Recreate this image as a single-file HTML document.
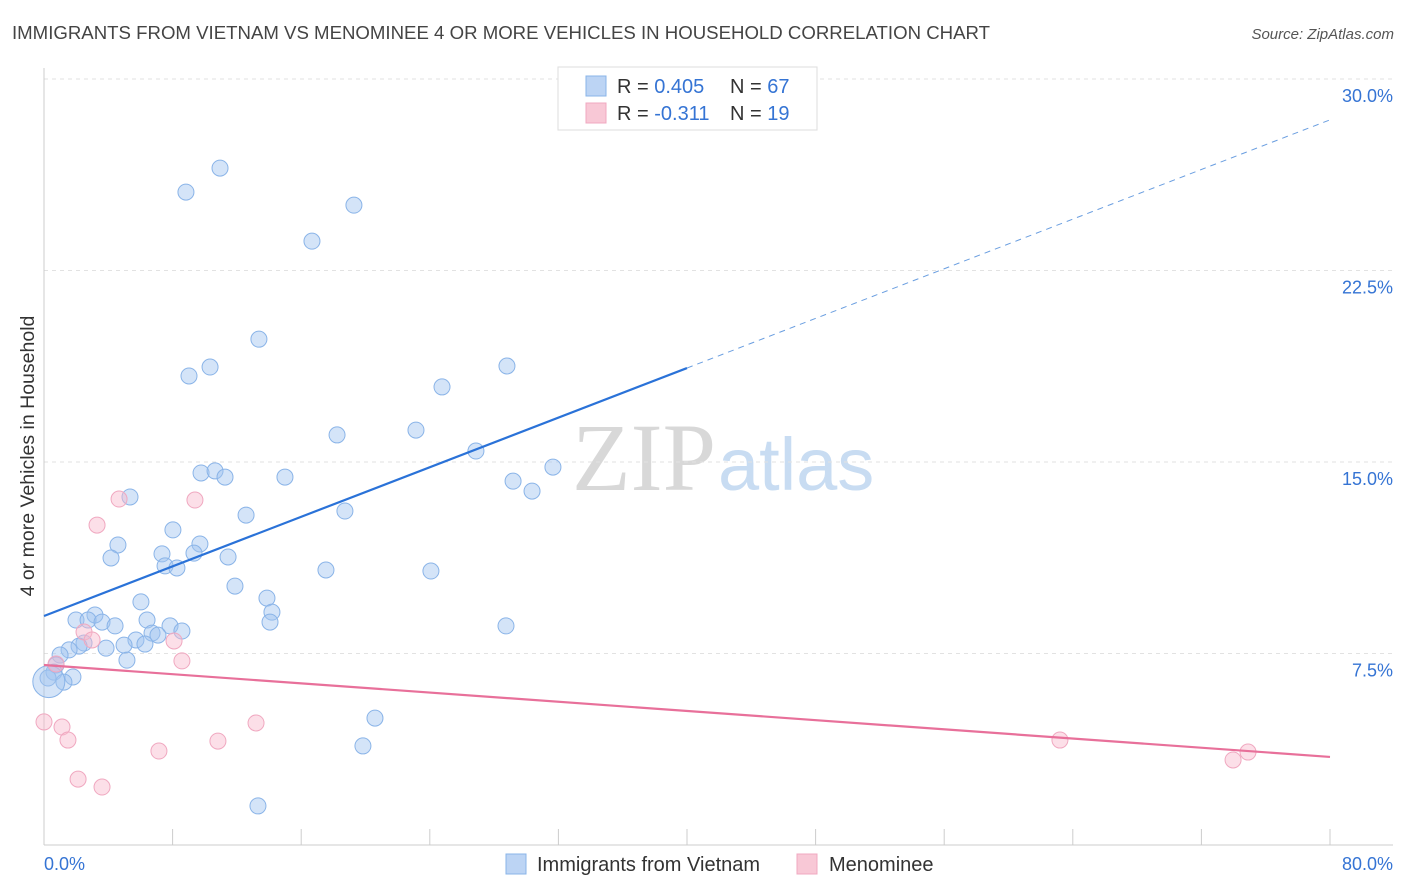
<!DOCTYPE html>
<html><head><meta charset="utf-8">
<style>
body{margin:0;background:#fff;font-family:"Liberation Sans",sans-serif;}
svg{display:block}
</style></head>
<body>
<svg id="chart" width="1406" height="892">
<text x="12" y="39" font-size="18" fill="#444" textLength="978" lengthAdjust="spacingAndGlyphs">IMMIGRANTS FROM VIETNAM VS MENOMINEE 4 OR MORE VEHICLES IN HOUSEHOLD CORRELATION CHART</text>
<text x="1394" y="39" font-size="15" fill="#555" text-anchor="end" font-style="italic">Source: ZipAtlas.com</text>
<text x="716" y="490" font-size="96" fill="#d8d8d8" text-anchor="end" font-family="Liberation Serif,serif">ZIP</text>
<text x="718" y="490" font-size="74" fill="#c8dcf2">atlas</text>
<text transform="translate(34,456) rotate(-90)" font-size="19.5" fill="#333" text-anchor="middle">4 or more Vehicles in Household</text>
<g id="grid"></g>
<g id="marks"></g>
<g>
<rect x="558" y="67" width="259" height="63" fill="#fff" stroke="#ddd"/>
<rect x="586" y="76" width="20" height="20" fill="#bcd4f4" stroke="#8ab4e8"/>
<rect x="586" y="103" width="20" height="20" fill="#f8c8d6" stroke="#f0a8c0"/>
<text x="617" y="93" font-size="20" fill="#333">R = <tspan fill="#3574d4">0.405</tspan><tspan x="730">N = </tspan><tspan fill="#3574d4">67</tspan></text>
<text x="617" y="120" font-size="20" fill="#333">R = <tspan fill="#3574d4">-0.311</tspan><tspan x="730">N = </tspan><tspan fill="#3574d4"> 19</tspan></text>
</g>
<g>
<rect x="506" y="854" width="20" height="20" fill="#bcd4f4" stroke="#8ab4e8"/>
<text x="537" y="871" font-size="20" fill="#333">Immigrants from Vietnam</text>
<rect x="797" y="854" width="20" height="20" fill="#f8c8d6" stroke="#f0a8c0"/>
<text x="829" y="871" font-size="20" fill="#333">Menominee</text>
</g>
</svg>
<script>
const yTicks=[7.5,15,22.5,30];
const xTickLabels=["0.0%","80.0%"];
const blueX=[10.95,8.83,19.28,16.67,13.37,28.80,10.33,9.02,24.76,18.23,23.14,26.87,31.66,9.77,10.64,11.26,14.99,29.18,30.36,5.35,18.72,12.57,8.02,4.60,9.70,4.17,7.34,9.33,11.45,7.53,8.27,17.54,24.07,11.88,13.87,6.03,3.17,14.18,1.99,2.74,3.61,4.42,6.41,7.84,14.06,28.74,8.58,6.72,7.09,5.72,6.28,4.98,2.49,2.18,3.86,1.56,1.00,5.16,0.75,0.62,1.80,1.24,0.25,20.59,19.84,13.31,0.3];
const blueY=[26.51,25.57,25.06,23.65,19.81,18.76,18.72,18.37,17.94,16.06,16.25,15.43,14.80,14.57,14.65,14.41,14.41,14.25,13.86,13.63,13.08,12.92,12.34,11.75,11.79,11.24,11.40,11.43,11.28,10.93,10.85,10.77,10.73,10.14,9.67,9.52,9.01,9.12,8.81,8.81,8.73,8.58,8.81,8.58,8.73,8.58,8.38,8.30,8.22,8.03,7.87,7.83,7.91,7.79,7.71,7.64,7.44,7.24,7.05,6.77,6.58,6.38,6.54,4.97,3.88,1.53,6.4];
const pinkX=[0,1.12,1.49,3.30,4.67,9.39,2.49,2.99,8.09,8.58,0.75,2.12,3.61,7.15,10.82,13.19,63.2,73.97,74.90];
const pinkY=[4.82,4.62,4.11,12.53,13.55,13.51,8.34,8.03,7.99,7.21,7.09,2.58,2.27,3.68,4.07,4.78,4.11,3.33,3.64];
const blueTrend=[8.97,18.68,28.4]; // values at x=0,40,80
const pinkTrend=[7.05,3.45]; // values at x=0,80
const X=v=>44+v*16.075, Y=v=>845-v*191.5/7.5;
const NS="http://www.w3.org/2000/svg";
const grid=document.getElementById('grid'), marks=document.getElementById('marks');
function mk(tag,attrs,parent){const e=document.createElementNS(NS,tag);for(const k in attrs)e.setAttribute(k,attrs[k]);parent.appendChild(e);return e;}
yTicks.forEach(t=>{
 const l=mk('line',{x1:44,x2:1393,y1:Y(t),y2:Y(t),stroke:'#e2e2e2','stroke-dasharray':'4,4'},grid);
 
 
 const tx=mk('text',{x:1393,y:Y(t)+23,'font-size':18,fill:'#3574d4','text-anchor':'end'},grid);
 tx.textContent=t.toFixed(1)+'%';
 
 
});
const ax=mk('line',{x1:44,x2:1393,y1:845,y2:845,stroke:'#ccc'},grid);


const ay=mk('line',{x1:44,x2:44,y1:68,y2:845,stroke:'#ccc'},grid);


for(let i=0;i<=80;i+=8){
 const t=mk('line',{x1:X(i),x2:X(i),y1:829,y2:845,stroke:'#ccc'},grid);
 
 
}
[[0,'start',0],[80,'end',63]].forEach((p,i)=>{
 const t=mk('text',{x:X(p[0])+p[2],y:870,'font-size':18,fill:'#3574d4','text-anchor':p[1]},grid);
 t.textContent=xTickLabels[i];
 
 
});
blueX.forEach((x,i)=>{
 const big=i===blueX.length-1;
 const c=mk('circle',{cx:X(x),cy:Y(blueY[i]),r:big?16:8,fill:'rgba(160,196,240,0.45)',stroke:'#8ab4e8','stroke-width':1},marks);
 
 
});
pinkX.forEach((x,i)=>{
 const c=mk('circle',{cx:X(x),cy:Y(pinkY[i]),r:8,fill:'rgba(248,184,204,0.45)',stroke:'#f0a8c0','stroke-width':1},marks);
 
 
});
const b1=mk('line',{x1:X(0),y1:Y(blueTrend[0]),x2:X(40),y2:Y(blueTrend[1]),stroke:'#2a72d8','stroke-width':2.2},marks);


const b2=mk('line',{x1:X(40),y1:Y(blueTrend[1]),x2:X(80),y2:Y(blueTrend[2]),stroke:'#6a9ee0','stroke-width':1,'stroke-dasharray':'6,5'},marks);


const p1=mk('line',{x1:X(0),y1:Y(pinkTrend[0]),x2:X(80),y2:Y(pinkTrend[1]),stroke:'#e8709a','stroke-width':2.2},marks);


</script>
</body></html>
